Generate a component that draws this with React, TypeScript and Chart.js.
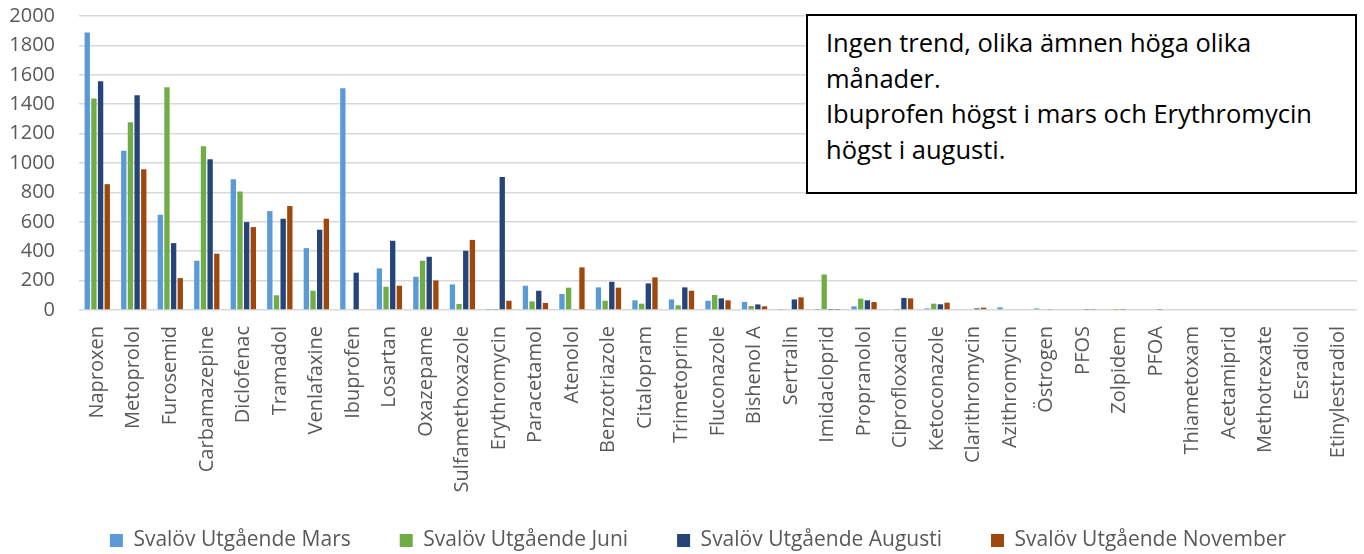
import React, { useEffect, useRef } from "react";
import { Chart, registerables } from "chart.js";

Chart.register(...registerables);

const categories = [
  "Naproxen", "Metoprolol", "Furosemid", "Carbamazepine", "Diclofenac", "Tramadol",
  "Venlafaxine", "Ibuprofen", "Losartan", "Oxazepame", "Sulfamethoxazole", "Erythromycin",
  "Paracetamol", "Atenolol", "Benzotriazole", "Citalopram", "Trimetoprim", "Fluconazole",
  "Bishenol A", "Sertralin", "Imidacloprid", "Propranolol", "Ciprofloxacin", "Ketoconazole",
  "Clarithromycin", "Azithromycin", "Östrogen", "PFOS", "Zolpidem", "PFOA", "Thiametoxam",
  "Acetamiprid", "Methotrexate", "Esradiol", "Etinylestradiol",
];

const seriesNames = [
  "Svalöv Utgående Mars",
  "Svalöv Utgående Juni",
  "Svalöv Utgående Augusti",
  "Svalöv Utgående November",
];

const marsValues = [1887, 1083, 648, 335, 890, 673, 421, 1508, 283, 226, 174, 2, 165, 109, 154, 66, 72, 63, 55, 3, 2, 25, 0, 11, 0, 18, 11, 0, 0, 0, 0, 0, 0, 0, 0];
const juniValues = [1438, 1277, 1515, 1114, 806, 100, 131, 0, 158, 335, 41, 2, 59, 152, 63, 43, 32, 102, 27, 0, 242, 77, 2, 43, 0, 0, 0, 0, 2, 0, 0, 0, 0, 0, 0];
const augustiValues = [1556, 1461, 455, 1026, 598, 621, 546, 254, 471, 362, 403, 905, 131, 4, 192, 181, 154, 79, 38, 72, 2, 66, 82, 39, 11, 5, 4, 3, 3, 3, 0, 0, 0, 0, 0];
const novemberValues = [856, 958, 217, 383, 564, 707, 621, 0, 165, 201, 477, 63, 48, 290, 152, 222, 131, 66, 25, 86, 2, 54, 79, 50, 16, 0, 0, 3, 0, 5, 0, 0, 0, 0, 0];

const seriesColors = ["#5B9BD5", "#70AD47", "#264478", "#9E480E"];

const yMax = 2000;
const yStep = 200;

const noteLines = [
  "Ingen trend, olika ämnen höga olika",
  "månader.",
  "Ibuprofen högst i mars och Erythromycin",
  "högst i augusti.",
];

const FONT = "'Open Sans', sans-serif";

export default function App() {
  const canvasRef = useRef<HTMLCanvasElement | null>(null);

  useEffect(() => {
    document.body.style.margin = "0";
    const canvas = canvasRef.current;
    if (!canvas) return;
    const values = [marsValues, juniValues, augustiValues, novemberValues];
    const labelClip = {
      id: "labelClip",
      afterLayout(chart: any) {
        const x = chart.scales.x;
        if (x) x.bottom = chart.height;
        const y = chart.scales.y;
        if (y) y.left = 0;
      },
    };
    const chart = new Chart(canvas, {
      type: "bar",
      data: {
        labels: categories,
        datasets: seriesNames.map((name, i) => ({
          label: name,
          data: values[i],
          backgroundColor: seriesColors[i],
          borderWidth: 0,
          categoryPercentage: 0.73,
          barPercentage: 0.8,
        })),
      },
      plugins: [labelClip],
      options: {
        animation: false,
        responsive: false,
        maintainAspectRatio: false,
        layout: { padding: { left: 39, right: 7, top: 16, bottom: 0 } },
        plugins: {
          tooltip: { enabled: false },
          legend: {
            position: "bottom",
            maxHeight: 73,
            labels: {
              boxWidth: 13,
              boxHeight: 13,
              padding: 49,
              color: "#595959",
              font: { family: FONT, size: 21 },
            },
          },
        },
        scales: {
          x: {
            grid: { display: false, drawTicks: false },
            border: { display: false },
            ticks: {
              autoSkip: false,
              maxRotation: 90,
              minRotation: 90,
              padding: 16,
              color: "#595959",
              font: { family: FONT, size: 20 },
            },
            afterFit: (scale: any) => {
              scale.height = 171;
              scale.paddingLeft = 0;
              scale.paddingRight = 0;
            },
          },
          y: {
            min: 0,
            max: yMax,
            grid: { color: "#D9D9D9", lineWidth: 1.5, drawTicks: false },
            border: { display: false },
            ticks: {
              stepSize: yStep,
              padding: 24,
              color: "#595959",
              font: { family: FONT, size: 20 },
              callback: (v: any) => String(v),
            },
            afterFit: (scale: any) => {
              scale.width = 40;
              scale.paddingTop = 12;
              scale.paddingBottom = 12;
            },
          },
        },
      },
    });
    return () => chart.destroy();
  }, []);

  return (
    <div style={{ position: "relative", width: 1364, height: 554, background: "#fff" }}>
      <canvas ref={canvasRef} width={1364} height={554} style={{ display: "block" }} />
      <div
        style={{
          position: "absolute",
          left: 806,
          top: 14,
          width: 551,
          height: 180,
          boxSizing: "border-box",
          border: "2px solid #000",
          background: "#fff",
          paddingLeft: 18,
          paddingTop: 9,
          fontFamily: FONT,
          fontSize: 25.5,
          lineHeight: "35.5px",
          color: "#000",
        }}
      >
        {noteLines.map((line, i) => (
          <div key={i} style={{ whiteSpace: "nowrap" }}>{line}</div>
        ))}
      </div>
    </div>
  );
}
